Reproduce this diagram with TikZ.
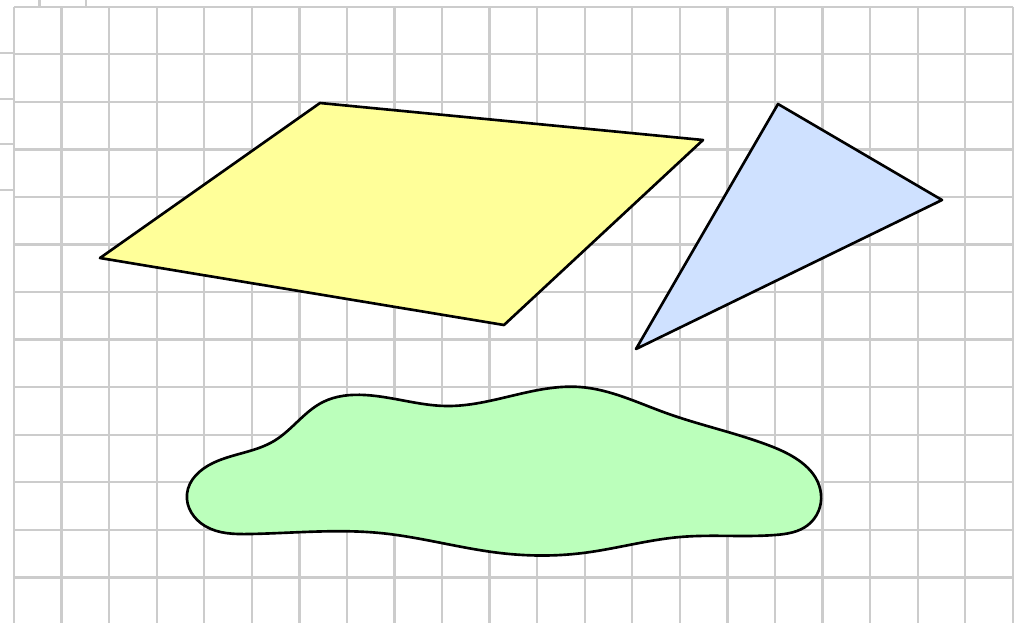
\documentclass[tikz,border=0pt]{standalone}
\usepackage{tikz}
\usetikzlibrary{calc,hobby}
\definecolor{gridgray}{RGB}{204,204,204}
\definecolor{quadyellow}{RGB}{255,255,153}
\definecolor{triblue}{RGB}{207,225,255}
\definecolor{blobgreen}{RGB}{187,255,187}
\tikzset{
  gridline/.style={draw=gridgray, line width=1.3pt, line cap=butt},
  figline/.style={draw=black, line width=1.5pt, line join=round, line cap=round}
}
\begin{document}
\begin{tikzpicture}[x=0.02cm, y=-0.02cm]
    \useasboundingbox (0,0) rectangle (1019,623);

    % Сітка (клітинка 47.56)
    \foreach \i in {0,...,21}
        \draw[gridline] ({14+47.56*\i},6.7) -- ({14+47.56*\i},623);
    \foreach \j in {0,...,12}
        \draw[gridline] (14,{6.7+47.56*\j}) -- (1012.7,{6.7+47.56*\j});

    % Обрізані лінії біля краю
    \foreach \y in {52.7,99,144,190}
        \draw[gridline] (0,\y) -- (13,\y);
    \foreach \x in {39.5,86}
        \draw[gridline] (\x,0) -- (\x,6.7);

    % Вершини чотирикутника
    \coordinate (A) at (100,258);
    \coordinate (B) at (320,103);
    \coordinate (C) at (703,140);
    \coordinate (D) at (504,325);

    % Вершини трикутника
    \coordinate (K) at (778,104);
    \coordinate (L) at (942,200);
    \coordinate (N) at (636,349);

    % Чотирикутник
    \filldraw[figline, fill=quadyellow] (A) -- (B) -- (C) -- (D) -- cycle;

    % Трикутник
    \filldraw[figline, fill=triblue] (K) -- (L) -- (N) -- cycle;

    % Фігура довільної форми
    \filldraw[figline, fill=blobgreen, use Hobby shortcut, closed=true]
        (187,494) .. (213,463) .. (274,441) .. (323,402) .. (365,395)
        .. (446,406) .. (580,387) .. (666,413) .. (773,447) .. (821,494)
        .. (808,525) .. (775,535) .. (680,537) .. (583,553) .. (500,553)
        .. (380,533) .. (250,534) .. (205,526);
\end{tikzpicture}
\end{document}
